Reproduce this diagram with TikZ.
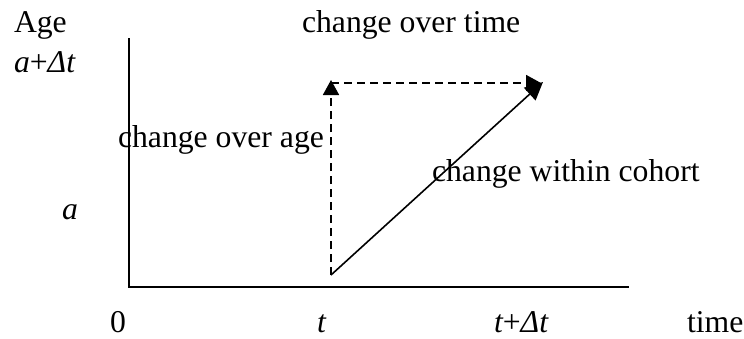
\documentclass[tikz,border=0pt]{standalone}
\usepackage{fontspec}
\setmainfont{Liberation Serif}
\usetikzlibrary{arrows.meta}
\begin{document}
\begin{tikzpicture}[x=1pt,y=-1pt,
  lbl/.style={anchor=base west,inner sep=0pt,outer sep=0pt,font=\fontsize{31.7}{38}\selectfont},
  axisline/.style={line width=2pt},
  dashline/.style={line width=1.7pt,dash pattern=on 8pt off 5pt},
  cohort/.style={line width=1.6pt},
  tipa/.style={-{Triangle[width=16pt,length=15pt]}},
  tipb/.style={-{Triangle[width=17pt,length=18pt]}}]
\useasboundingbox (0,0) rectangle (744,338);
% axes
\coordinate (ytop) at (129,38);
\coordinate (orig) at (129,287);
\coordinate (xend) at (629,287);
\draw[axisline] (ytop) -- (orig) -- (xend);
% arrows
\coordinate (start) at (331,275);
\coordinate (agetop) at (331,80);
\coordinate (hstart) at (331,83);
\coordinate (hend) at (541,83);
\coordinate (tip) at (543,82);
\draw[dashline,tipa] (start) -- (agetop);
\draw[dashline,tipa] (hstart) -- (hend);
\draw[cohort,tipb] (start) -- (tip);
% labels
\node[lbl] (age) at (14,32) {Age};
\node[lbl] (aplus) at (14,72) {\itshape a\upshape+\itshape Δt};
\node[lbl] (cot) at (302,32) {change over time};
\node[lbl] (coa) at (118,147) {change over age};
\node[lbl] (cwc) at (432,181) {change within cohort};
\node[lbl] (a) at (62,219) {\itshape a};
\node[lbl] (zero) at (110,332) {0};
\node[lbl] (t) at (317,332) {\itshape t};
\node[lbl] (tdt) at (494,332) {\itshape t\upshape+\itshape Δt};
\node[lbl] (time) at (687,332) {time};
\end{tikzpicture}
\end{document}
